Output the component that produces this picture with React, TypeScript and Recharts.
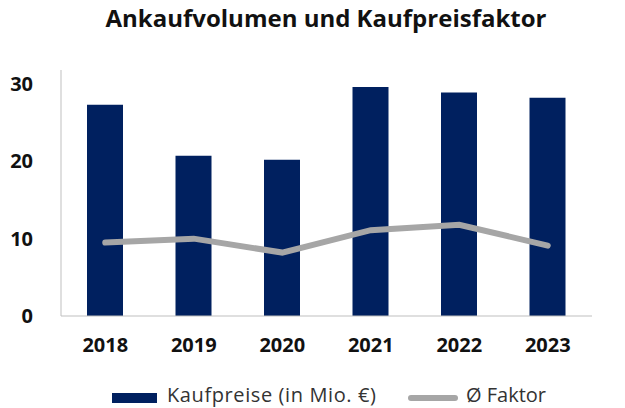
import { ComposedChart, Bar, Line, XAxis, YAxis, Legend } from 'recharts';

const years = ['2018', '2019', '2020', '2021', '2022', '2023'];
const kaufpreise = [27.3, 20.7, 20.2, 29.6, 28.9, 28.2];
const faktor = [9.5, 10.0, 8.2, 11.1, 11.8, 9.1];
const yTicks = [0, 10, 20, 30];

const data = years.map((year, i) => ({ year, kaufpreise: kaufpreise[i], faktor: faktor[i] }));

const FONT = '"Open Sans", sans-serif';
const BLUE = '#00205f';
const GREY = '#a6a6a6';

function LegendContent() {
  return (
    <div style={{ position: 'relative', height: 42, fontFamily: FONT, fontSize: 20, lineHeight: '18px', color: '#333' }}>
      <span style={{ position: 'absolute', left: 112, top: 27, width: 45, height: 10, background: BLUE }} />
      <span style={{ position: 'absolute', left: 167, top: 20, letterSpacing: 0.6, whiteSpace: 'nowrap' }}>
        Kaufpreise (in Mio. €)
      </span>
      <span style={{ position: 'absolute', left: 408, top: 29, width: 50, height: 6, borderRadius: 3, background: GREY }} />
      <span style={{ position: 'absolute', left: 466, top: 20, whiteSpace: 'nowrap' }}>Ø Faktor</span>
    </div>
  );
}

export default function App() {
  return (
    <div style={{ position: 'absolute', left: 0, top: 0, width: 625, height: 408, background: '#fff' }}>
      <div
        style={{
          position: 'absolute',
          top: 1,
          left: 0,
          width: 652,
          textAlign: 'center',
          fontFamily: FONT,
          fontWeight: 700,
          fontSize: 24,
          color: '#111',
        }}
      >
        Ankaufvolumen und Kaufpreisfaktor
      </div>
      <ComposedChart
        width={625}
        height={408}
        data={data}
        margin={{ top: 70, right: 33, bottom: 0, left: 0 }}
      >
        <XAxis
          dataKey="year"
          axisLine={{ stroke: '#bfbfbf' }}
          tickLine={false}
          tick={{ fontFamily: FONT, fontWeight: 700, fontSize: 20, fill: '#111' }}
          height={50}
          tickMargin={16}
        />
        <YAxis
          domain={[0, 31.8]}
          ticks={yTicks}
          width={61}
          axisLine={{ stroke: '#bfbfbf' }}
          tickLine={false}
          tick={{ fontFamily: FONT, fontWeight: 700, fontSize: 20, fill: '#111' }}
          tickMargin={22}
        />
        <Legend
          verticalAlign="bottom"
          content={<LegendContent />}
          wrapperStyle={{ left: 0, width: 625, height: 42 }}
        />
        <Bar dataKey="kaufpreise" fill={BLUE} barSize={36} isAnimationActive={false} />
        <Line
          dataKey="faktor"
          stroke={GREY}
          strokeWidth={6}
          strokeLinecap="round"
          dot={false}
          activeDot={false}
          isAnimationActive={false}
        />
      </ComposedChart>
    </div>
  );
}
